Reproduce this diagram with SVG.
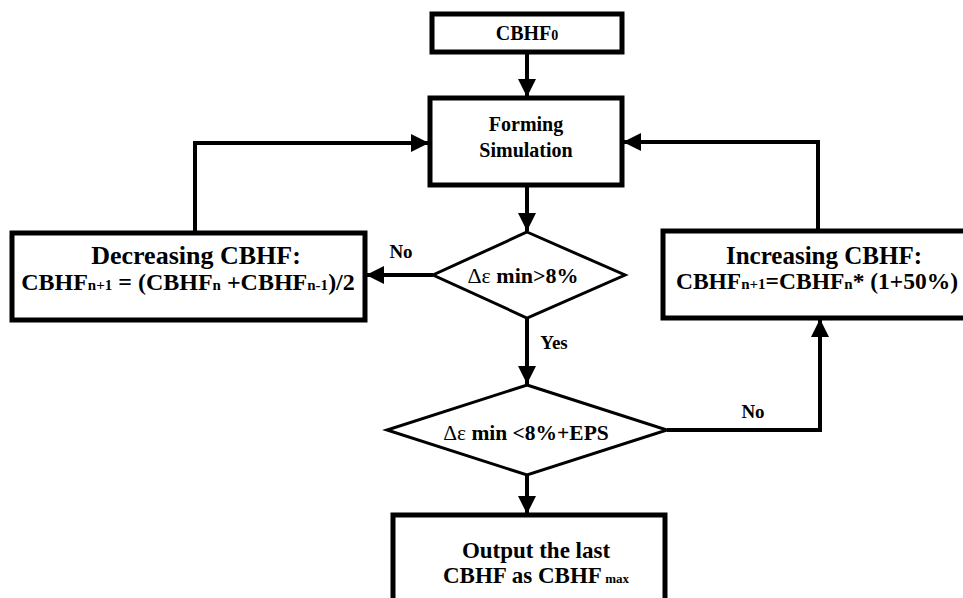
<svg xmlns="http://www.w3.org/2000/svg" width="963" height="598" viewBox="0 0 963 598">
<style>
.box{fill:#fff;stroke:#000;stroke-width:5}
.dia{fill:#fff;stroke:#000;stroke-width:3}
.ln{fill:none;stroke:#000;stroke-width:4}
text{font-family:"Liberation Serif","Times New Roman",serif;font-weight:bold;fill:#000;text-anchor:middle}
.reg{font-weight:normal}
</style>
<defs>
<marker id="ah" markerUnits="userSpaceOnUse" markerWidth="18" markerHeight="18" viewBox="0 0 18 18" refX="18" refY="9" orient="auto">
<path d="M0,0 L18,9 L0,18 Z" fill="#000"/>
</marker>
</defs>
<rect width="963" height="598" fill="#fff"/>
<g id="connectors">
<line class="ln" x1="527" y1="52" x2="527" y2="97" marker-end="url(#ah)"/>
<line class="ln" x1="527" y1="186" x2="527" y2="231" marker-end="url(#ah)"/>
<line class="ln" x1="433" y1="275" x2="366" y2="275" marker-end="url(#ah)"/>
<path class="ln" d="M195,233 V143 H429" marker-end="url(#ah)"/>
<line class="ln" x1="527" y1="318" x2="527" y2="384" marker-end="url(#ah)"/>
<path class="ln" d="M667,430 H820 V319" marker-end="url(#ah)"/>
<path class="ln" d="M818,230 V142 H623" marker-end="url(#ah)"/>
<line class="ln" x1="527" y1="475" x2="527" y2="514" marker-end="url(#ah)"/>
</g>
<g id="cbhf0">
<rect class="box" x="432" y="14" width="190" height="38"/>
<text x="527" y="40" font-size="20">CBHF<tspan font-size="14">0</tspan></text>
</g>
<g id="forming">
<rect class="box" x="430" y="98" width="192" height="87"/>
<text x="526" y="131" font-size="20">Forming</text>
<text x="526" y="157" font-size="20">Simulation</text>
</g>
<g id="decreasing">
<rect class="box" x="12" y="233" width="353" height="87"/>
<text x="196" y="264" font-size="26">Decreasing CBHF:</text>
<text x="188" y="290" font-size="24">CBHF<tspan font-size="15">n+1</tspan> = (CBHF<tspan font-size="15">n</tspan> +CBHF<tspan font-size="15">n-1</tspan>)/2</text>
</g>
<g id="check1">
<polygon class="dia" points="527,232 625,275 527,318 433,275"/>
<text x="523" y="283" font-size="22"><tspan class="reg">Δε</tspan> min&gt;8%</text>
</g>
<g id="increasing">
<rect class="box" x="663" y="231" width="310" height="87"/>
<text x="824" y="264" font-size="25">Increasing CBHF:</text>
<text x="817" y="289" font-size="23.5">CBHF<tspan font-size="15">n+1</tspan>=CBHF<tspan font-size="15">n</tspan>* (1+50%)</text>
</g>
<g id="check2">
<polygon class="dia" points="527,385 667,430 527,475 387,430"/>
<text x="526" y="440" font-size="21.5"><tspan class="reg">Δε</tspan> min &lt;8%+EPS</text>
</g>
<g id="output">
<rect class="box" x="393" y="515" width="272" height="95"/>
<text x="536" y="558" font-size="23">Output the last</text>
<text x="536" y="583" font-size="23">CBHF as CBHF<tspan font-size="13"> max</tspan></text>
</g>
<g id="labels">
<text x="401" y="258" font-size="19">No</text>
<text x="554" y="349" font-size="19">Yes</text>
<text x="753" y="418" font-size="19">No</text>
</g>
</svg>
